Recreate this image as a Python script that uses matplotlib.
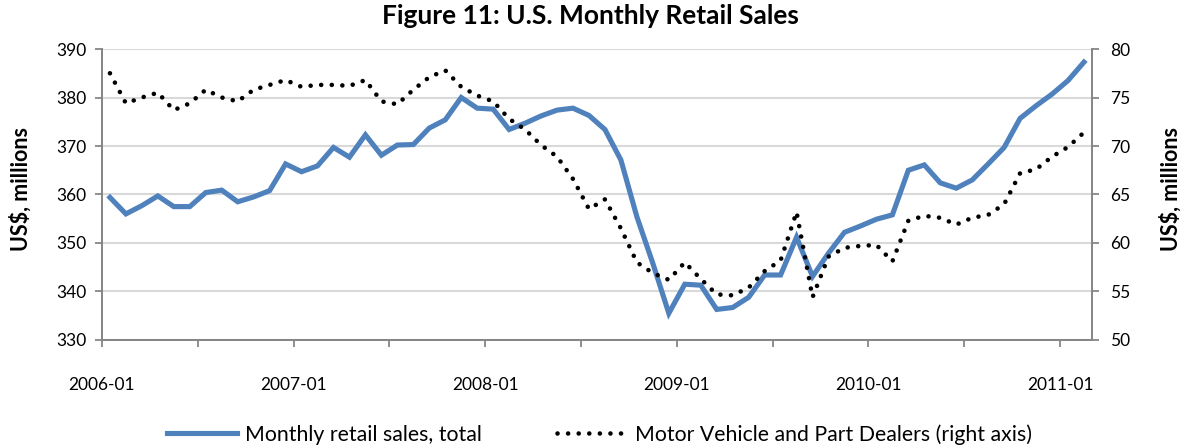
import numpy as np
import pandas as pd
import matplotlib
matplotlib.use("Agg")
import matplotlib.pyplot as plt
from matplotlib.ticker import FixedLocator, NullFormatter

plt.rcParams['font.family'] = ['Lato', 'DejaVu Sans']

# monthly categories, 2006-01 .. 2011-02
months = pd.date_range('2006-01-01', periods=62, freq='MS').strftime('%Y-%m').tolist()

# Monthly retail sales, total (US$ millions, left axis)
retail_total = [
    359.4, 356.0, 357.7, 359.7, 357.5, 357.5, 360.4, 360.9, 358.5, 359.5, 360.8, 366.3,
    364.7, 365.9, 369.7, 367.7, 372.3, 368.1, 370.2, 370.3, 373.7, 375.4, 380.0, 377.8,
    377.6, 373.4, 374.7, 376.2, 377.4, 377.8, 376.3, 373.4, 367.1, 355.4, 345.8, 335.5,
    341.5, 341.3, 336.3, 336.7, 338.8, 343.4, 343.4, 351.2, 343.1, 347.9, 352.2, 353.5,
    354.9, 355.8, 365.0, 366.1, 362.4, 361.3, 363.0, 366.3, 369.7, 375.7, 378.3, 380.7,
    383.5, 387.3,
]

# Motor vehicle and part dealers (US$ millions, right axis)
motor_vehicle = [
    77.5, 74.4, 75.0, 75.5, 73.7, 74.4, 75.8, 75.0, 74.6, 75.8, 76.3, 76.8,
    76.1, 76.3, 76.3, 76.2, 76.8, 74.6, 74.3, 75.8, 77.1, 77.8, 76.1, 75.2,
    74.6, 72.8, 71.7, 70.1, 68.9, 66.6, 63.5, 64.5, 61.5, 58.0, 56.9, 56.2,
    58.0, 56.3, 54.7, 54.6, 55.4, 57.1, 58.2, 63.2, 54.4, 58.6, 59.5, 59.7,
    59.8, 58.1, 62.3, 62.8, 62.6, 61.9, 62.6, 62.9, 64.0, 67.2, 67.6, 68.9,
    69.9, 71.4,
]

blue = '#4F81BD'
grid_col = '#D9D9D9'
axis_col = '#868686'

fig = plt.figure(figsize=(11.8, 4.48), dpi=100)
ax = fig.add_axes([0.0864, 0.2411, 0.8390, 0.6495])
ax2 = ax.twinx()

x = np.arange(len(months))
ax.plot(x, retail_total, color=blue, linewidth=3.7, solid_joinstyle='miter',
        label='Monthly retail sales, total', zorder=3)
ax2.plot(x, motor_vehicle, color='black', linewidth=3.3, linestyle=(0, (0.01, 2.3)),
         dash_capstyle='round', label='Motor Vehicle and Part Dealers (right axis)')

ax.set_xlim(-0.5, len(months) - 0.5)
ax.set_ylim(330, 390)
ax2.set_ylim(50, 80)
ax.set_yticks(np.arange(330, 391, 10))
ax2.set_yticks(np.arange(50, 81, 5))

major = np.arange(0, len(months) + 1, 12) - 0.5
minor = np.arange(0, len(months) + 1, 6) - 0.5
ax.xaxis.set_major_locator(FixedLocator(major))
ax.set_xticklabels([months[int(m + 0.5)] for m in major])
ax.xaxis.set_minor_locator(FixedLocator(minor))
ax.xaxis.set_minor_formatter(NullFormatter())

ax.grid(axis='y', color=grid_col, linewidth=1.5)
ax.set_axisbelow(True)
ax.tick_params(axis='x', which='both', length=5, width=1.3, color=axis_col,
               labelsize=12.5, pad=22)
ax.tick_params(axis='y', length=5, width=1.3, color=axis_col, labelsize=12.5, pad=6)
ax2.tick_params(axis='y', length=5, width=1.3, color=axis_col, labelsize=12.5, pad=8)

for a in (ax, ax2):
    a.spines['top'].set_visible(False)
    for s in ('left', 'right', 'bottom'):
        a.spines[s].set_color(axis_col)
        a.spines[s].set_linewidth(1.3)

ax.set_ylabel('US$, millions', fontsize=15.5, fontweight='bold')
ax2.set_ylabel('US$, millions', fontsize=15.5, fontweight='bold', rotation=90)
ax.yaxis.set_label_coords(-0.071, 0.52)
ax2.yaxis.set_label_coords(1.068, 0.52)

fig.suptitle('Figure 11: U.S. Monthly Retail Sales', fontsize=19, fontweight='bold', y=0.99)

h1, l1 = ax.get_legend_handles_labels()
h2, l2 = ax2.get_legend_handles_labels()
fig.legend(h1 + h2, l1 + l2, loc='center', ncol=2, frameon=False,
           fontsize=15.3, handlelength=3.3, handletextpad=0.4, columnspacing=3.5,
           bbox_to_anchor=(0.508, 0.03), borderpad=0)

fig.savefig('out.png', dpi=100)
